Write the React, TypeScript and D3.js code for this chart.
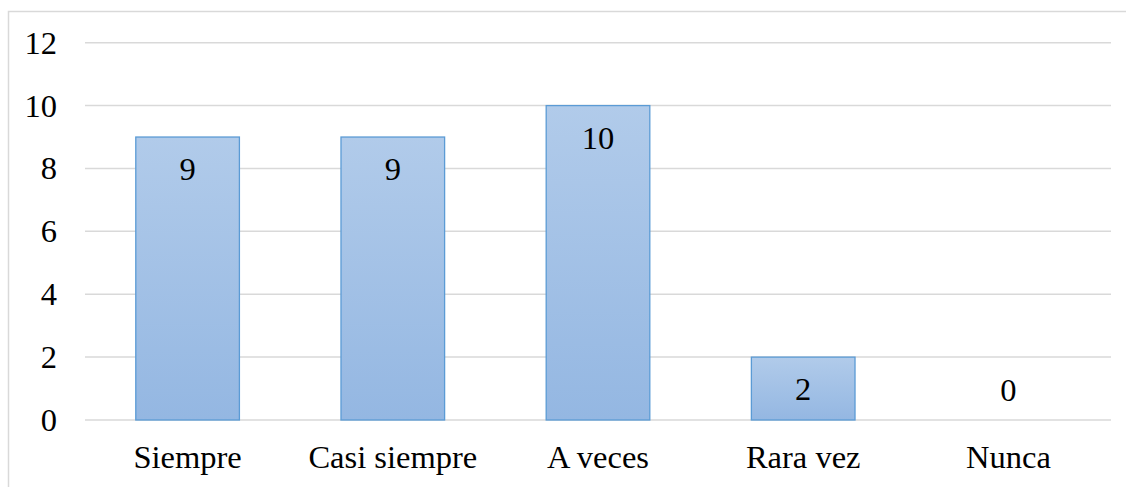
import React from "react";
import * as d3 from "d3";

const categories = ["Siempre", "Casi siempre", "A veces", "Rara vez", "Nunca"];
const values = [9, 9, 10, 2, 0];
const yTicks = [0, 2, 4, 6, 8, 10, 12];

export default function App() {
  const W = 1126, H = 487;
  const left = 85, right = 1111, top = 42.7, bottom = 420;
  const x = d3.scaleBand<string>().domain(categories).range([left, right]).paddingInner(0.495).paddingOuter(0.2475);
  const y = d3.scaleLinear().domain([0, 12]).range([bottom, top]);
  const font = "Liberation Serif";
  const fs = 32.5;
  return (
    <div style={{ position: "fixed", left: 0, top: 0 }}>
      <svg width={W} height={H} style={{ display: "block", background: "#fff" }}>
        <defs>
          <linearGradient id="barGrad" x1="0" y1="0" x2="0" y2="1">
            <stop offset="0" stopColor="#B1CBEA" />
            <stop offset="1" stopColor="#94B7E2" />
          </linearGradient>
        </defs>
        <rect x={8.5} y={11.5} width={W + 10} height={H + 10} fill="none" stroke="#D9D9D9" strokeWidth={1.5} />
        {yTicks.map((t) => (
          <g key={t}>
            <line x1={left} x2={right} y1={y(t)} y2={y(t)} stroke="#D9D9D9" strokeWidth={1.5} />
            <text x={57} y={y(t) + 11} textAnchor="end" fontFamily={font} fontSize={fs} fill="#000">{t}</text>
          </g>
        ))}
        {categories.map((c, i) => {
          const v = values[i];
          const bx = x(c)!;
          const bw = x.bandwidth();
          const yt = y(v);
          const h = bottom - yt;
          const labelY = h > 50 ? yt + 43 : yt - 19;
          return (
            <g key={c}>
              {v > 0 && (
                <rect x={bx} y={yt} width={bw} height={h} fill="url(#barGrad)" stroke="#5B9BD5" strokeWidth={1.3} />
              )}
              <text x={bx + bw / 2} y={labelY} textAnchor="middle" fontFamily={font} fontSize={fs} fill="#000">{v}</text>
              <text x={bx + bw / 2} y={468} textAnchor="middle" fontFamily={font} fontSize={fs} fill="#000">{c}</text>
            </g>
          );
        })}
      </svg>
    </div>
  );
}
